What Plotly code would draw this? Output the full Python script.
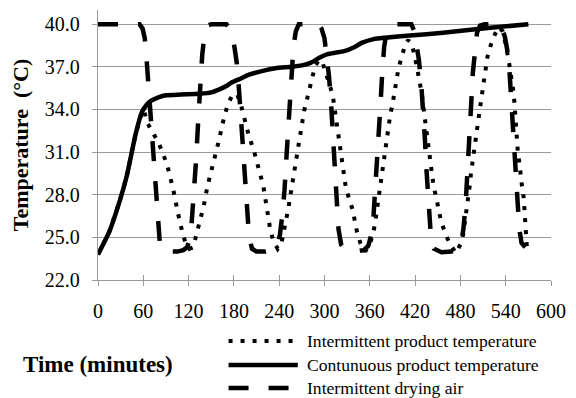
import plotly.graph_objects as go

# ---------------- data ----------------
time_ticks = [0, 60, 120, 180, 240, 300, 360, 420, 480, 540, 600]
temp_ticks = [22.0, 25.0, 28.0, 31.0, 34.0, 37.0, 40.0]

series_names = ["Intermittent product temperature",
                "Contunuous product temperature",
                "Intermittent drying air"]

# Intermittent product temperature (dotted)
dot_t = [0, 15, 29, 38, 50, 58, 61, 64, 70, 75, 80, 86, 91, 95, 99, 102, 105, 108, 112, 116,
         121, 126, 131, 136, 140, 145, 150, 153, 158, 161, 164, 168, 172, 178, 184, 189, 193,
         196, 200, 206, 210, 214, 219, 222, 225, 228, 232, 238, 243, 246, 249, 252, 255, 258,
         262, 265, 267, 270, 273, 277, 281, 284, 288, 293, 298, 303, 308, 311, 313, 315, 317,
         319, 321.5, 323.5, 326, 328, 332, 337, 340, 343, 347.5, 354, 360.5, 365, 367.5, 369.5,
         372, 374, 378, 380, 382.5, 384.5, 387, 390.5, 393.5, 395.5, 398, 402, 406.5, 411, 417,
         422, 426, 428.5, 430.5, 432.5, 435, 437, 438.5, 440, 443, 444.5, 448, 451, 454.5, 460,
         465.5, 474, 481, 484, 486.5, 489, 491, 492.5, 494, 496, 498.3, 500.5, 502.6, 504.8,
         507, 509.2, 511.4, 513.6, 515.8, 520, 525.8, 531, 536, 540, 544, 546, 548, 550.5,
         551.8, 552.6, 553.4, 554.6, 556, 558.2, 559.4, 561.6, 563.8, 565, 566, 567, 568]
dot_y = [23.8, 25.4, 27.6, 29.3, 32.3, 33.8, 34.0, 33.2, 32.6, 32.2, 31.7, 30.9, 30.2, 29.4,
         28.6, 27.8, 26.9, 26.1, 25.3, 24.6, 24.2, 24.3, 25.4, 26.4, 27.2, 28.6, 29.6, 30.3,
         31.2, 32.0, 32.8, 33.6, 34.4, 35.0, 35.1, 34.4, 33.6, 32.9, 32.1, 31.2, 30.5, 29.6,
         28.6, 27.6, 26.6, 25.6, 24.8, 24.2, 24.6, 25.3, 26.2, 27.0, 28.0, 29.0, 30.6, 31.5,
         32.3, 33.1, 33.9, 34.75, 35.5, 36.3, 37.1, 37.5, 37.2, 36.3, 35.6, 35.0, 34.2, 33.5,
         32.7, 31.9, 31.05, 30.2, 29.4, 28.6, 27.8, 27.0, 26.2, 25.4, 24.6, 24.0, 24.6, 25.4,
         26.2, 27.0, 27.9, 28.7, 30.2, 31.05, 32.0, 32.8, 33.6, 34.5, 35.3, 36.1, 36.9, 37.7,
         38.5, 38.9, 38.3, 37.1, 36.0, 35.2, 34.35, 33.5, 32.7, 31.9, 31.05, 30.2, 29.4, 28.6,
         27.8, 26.9, 26.1, 25.3, 24.6, 23.9, 24.6, 25.3, 26.2, 27.0, 28.0, 28.7, 29.5, 30.35,
         31.2, 32.0, 32.8, 33.65, 34.5, 35.3, 36.1, 36.9, 37.7, 38.5, 39.3, 39.8, 39.5, 38.6,
         37.6, 36.8, 36.0, 35.2, 34.3, 33.5, 32.7, 31.9, 31.05, 30.2, 29.4, 28.6, 27.8, 26.8,
         26.0, 25.25, 24.35]

# Continuous product temperature (solid)
cont_t = [0, 15, 29, 38, 50, 58, 64, 70, 80, 90, 110, 135, 150, 160, 170, 177, 190, 200, 217,
          235, 256, 270, 282, 295, 304, 315, 326, 340, 350, 365, 380, 413, 457, 500, 540, 570]
cont_y = [23.8, 25.4, 27.6, 29.3, 32.3, 33.8, 34.3, 34.6, 34.85, 35.0, 35.05, 35.1, 35.2,
          35.4, 35.65, 35.9, 36.2, 36.45, 36.7, 36.9, 37.0, 37.1, 37.3, 37.7, 37.9, 38.0,
          38.1, 38.4, 38.7, 38.95, 39.05, 39.2, 39.4, 39.65, 39.85, 40.0]

# Intermittent drying air (dashed)
air_t = [0, 20, 40, 55, 59, 62, 64, 66, 69, 72, 75, 77, 79, 82, 86, 95, 105, 113, 118, 121,
         124, 127, 130, 133, 135.5, 138, 141, 145, 150, 170, 175, 178, 181, 184, 187, 190, 193,
         195.5, 197.5, 200, 204, 210, 222, 232, 238, 241, 244, 247, 250, 253, 256, 259, 262,
         266, 292, 296, 300, 303, 306, 308.5, 311, 313.5, 316, 318.5, 322, 328, 340, 352, 358,
         362, 365, 368, 371, 374, 376.5, 379, 382, 387, 392, 415, 419, 422, 425, 428, 431, 433,
         435, 437, 439, 441, 445, 455, 468, 476, 481, 484, 487, 490, 492.5, 494.5, 496.5, 499,
         502, 506, 512, 530, 535, 539, 542, 545, 547.5, 550, 552.5, 555, 558, 561, 566]
air_y = [40.0, 40.0, 40.0, 40.0, 39.7, 39.0, 37.8, 36.3, 33.8, 31.4, 29.2, 27.6, 25.8, 24.5,
         24.1, 24.0, 24.0, 24.1, 24.3, 24.8, 26.0, 28.0, 30.5, 33.5, 35.8, 37.8, 39.3, 39.9,
         40.0, 40.0, 39.7, 39.2, 38.3, 37.2, 35.2, 32.8, 30.3, 28.2, 26.5, 25.1, 24.2, 24.0,
         24.0, 24.1, 24.5, 25.2, 26.5, 28.3, 31.0, 34.0, 36.5, 38.5, 39.5, 40.0, 40.0, 39.7,
         39.0, 37.9, 36.3, 34.6, 32.5, 30.0, 27.5, 25.6, 24.5, 24.1, 24.0, 24.1, 24.4, 25.2,
         26.6, 28.8, 31.3, 34.2, 36.6, 38.4, 39.4, 39.9, 40.0, 40.0, 39.5, 38.7, 37.5, 35.9,
         33.8, 31.9, 29.8, 27.9, 26.3, 25.0, 24.2, 23.95, 24.0, 24.1, 24.6, 25.6, 27.4, 29.8,
         32.4, 34.6, 36.6, 38.3, 39.4, 39.9, 40.0, 40.0, 39.7, 39.1, 38.2, 36.7, 34.7, 32.3,
         29.8, 27.5, 25.6, 24.6, 24.3]

# ---------------- styling ----------------
FONT = "Liberation Serif"
GRID = "#9a9a9a"
DOT_DASH = "4px,8px"
LONG_DASH = "20px,20px"

fig = go.Figure()
fig.add_trace(go.Scatter(x=dot_t, y=dot_y, mode="lines", name=series_names[0],
                         line=dict(color="black", width=4, dash=DOT_DASH), showlegend=False))
fig.add_trace(go.Scatter(x=cont_t, y=cont_y, mode="lines", name=series_names[1],
                         line=dict(color="black", width=4.5, shape="spline", smoothing=0.6),
                         showlegend=False))
fig.add_trace(go.Scatter(x=air_t, y=air_y, mode="lines", name=series_names[2],
                         line=dict(color="black", width=4.5, dash=LONG_DASH), showlegend=False))
# helper trace for the inner half of the crossing x ticks
fig.add_trace(go.Scatter(x=[time_ticks[0]], y=[temp_ticks[0]], xaxis="x2", mode="markers",
                         marker=dict(opacity=0), hoverinfo="skip", showlegend=False))

fig.update_layout(
    width=576, height=398,
    margin=dict(l=98, r=20, t=10, b=118),
    paper_bgcolor="white", plot_bgcolor="white",
    font=dict(family=FONT, color="black"),
    xaxis=dict(range=[0, 600], tickmode="array", tickvals=time_ticks,
               ticktext=[str(v) for v in time_ticks],
               showgrid=False, zeroline=False, showline=True, linecolor=GRID, linewidth=1.3,
               ticks="outside", ticklen=5, tickwidth=1.3, tickcolor=GRID,
               tickfont=dict(family=FONT, size=20, color="black"), ticklabelstandoff=8),
    xaxis2=dict(range=[0, 600], overlaying="x", anchor="y", side="bottom",
                tickmode="array", tickvals=time_ticks, showticklabels=False,
                showgrid=False, zeroline=False, showline=False,
                ticks="inside", ticklen=5, tickwidth=1.3, tickcolor=GRID),
    yaxis=dict(range=[22, 41], tickmode="array", tickvals=temp_ticks,
               ticktext=[f"{v:.1f}" for v in temp_ticks],
               showgrid=True, gridcolor=GRID, gridwidth=1.3, zeroline=False,
               showline=True, linecolor=GRID, linewidth=1.3,
               ticks="outside", ticklen=5, tickwidth=1.3, tickcolor=GRID,
               tickfont=dict(family=FONT, size=20, color="black"), ticklabelstandoff=8,
               title=dict(text="Temperature  (°C)", standoff=10,
                          font=dict(family=FONT, size=22, color="black", weight="bold"))),
    showlegend=False,
)

# manual legend (sample line + label) below the plot, like the original
PL, PW, PB, PH = 98, 458, 280, 270   # plot area in px (left, width, bottom, height)
def px_x(px):
    return (px - PL) / PW
def px_y(py):
    return (PB - py) / PH

legend_rows = [341, 365, 388]
legend_styles = [dict(width=4, dash=DOT_DASH), dict(width=4.5, dash="solid"),
                 dict(width=4.5, dash=LONG_DASH)]
for name, row, st in zip(series_names, legend_rows, legend_styles):
    fig.add_shape(type="line", xref="paper", yref="paper",
                  x0=px_x(230), x1=px_x(300), y0=px_y(row), y1=px_y(row),
                  line=dict(color="black", **st))
    fig.add_annotation(text=name, xref="paper", yref="paper", x=px_x(307), y=px_y(row),
                       xanchor="left", yanchor="middle", showarrow=False,
                       font=dict(family=FONT, size=17.6, color="black"))

fig.add_annotation(text="Time (minutes)", xref="paper", yref="paper",
                   x=px_x(97.5), y=px_y(364), xanchor="center", yanchor="middle",
                   showarrow=False,
                   font=dict(family=FONT, size=23, color="black", weight="bold"))

fig.write_html("out.html")
